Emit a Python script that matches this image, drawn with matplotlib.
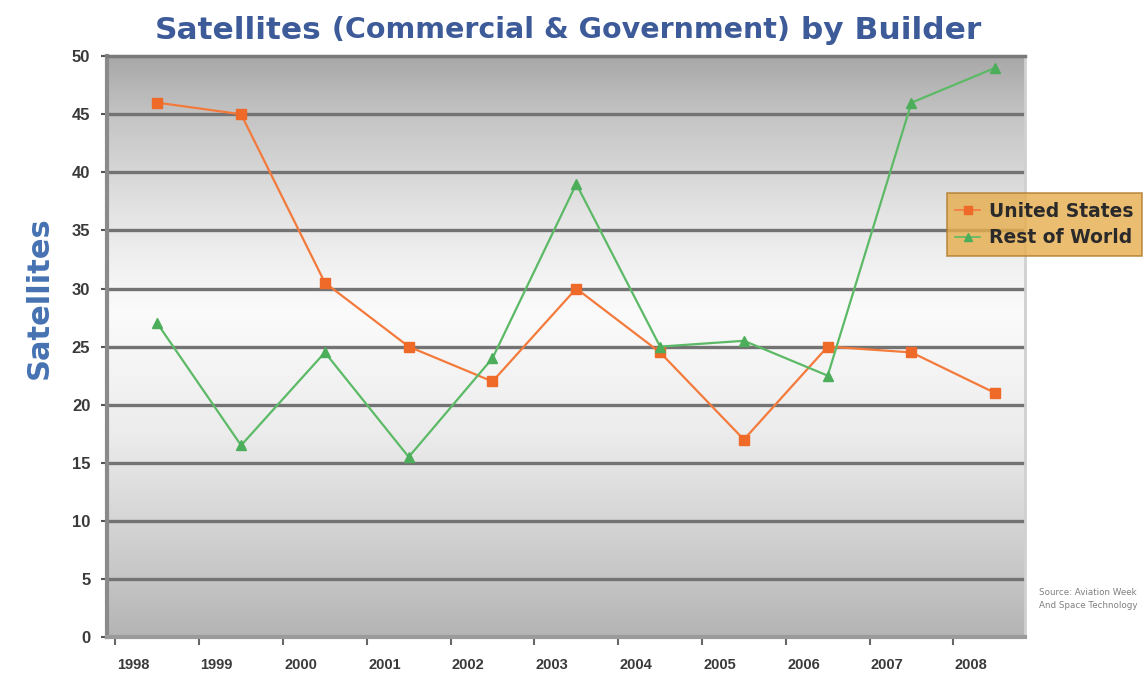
import numpy as np
import matplotlib
matplotlib.use("Agg")
import matplotlib.pyplot as plt
from matplotlib.colors import LinearSegmentedColormap
from matplotlib.lines import Line2D

years = ["1998", "1999", "2000", "2001", "2002", "2003", "2004", "2005", "2006", "2007", "2008"]
us = [46, 45, 30.5, 25, 22, 30, 24.5, 17, 25, 24.5, 21]
row = [27, 16.5, 24.5, 15.5, 24, 39, 25, 25.5, 22.5, 46, 49]
yticks = [0, 5, 10, 15, 20, 25, 30, 35, 40, 45, 50]

plt.rcParams['font.family'] = ['DejaVu Sans']

fig = plt.figure(figsize=(11.47, 6.85), dpi=100)
ax = fig.add_axes([0.0933, 0.070, 0.800, 0.848])

x = np.arange(len(years))
ax.set_xlim(-0.6, 10.35)
ax.set_ylim(0, 50)

# background gradient
stops = [(0.0, "#b4b4b4"), (0.12, "#c9c9c9"), (0.35, "#ececec"), (0.56, "#fbfbfb"),
         (0.72, "#e6e6e6"), (0.9, "#c4c4c4"), (1.0, "#a8a8a8")]
cmap = LinearSegmentedColormap.from_list("bg", stops)
grad = np.linspace(0, 1, 256).reshape(-1, 1)
ax.imshow(grad, extent=(-0.6, 10.35, 0, 50), origin="lower", aspect="auto",
          cmap=cmap, zorder=0)

for yv in yticks[1:-1]:
    ax.axhline(yv, color="#737373", lw=2.4, zorder=1)

ax.plot(x, us, color="#f47a3c", lw=1.6, marker="s", ms=6.5, mfc="#ef6a28",
        mec="#ef6a28", zorder=3, label="United States")
ax.plot(x, row, color="#5cba66", lw=1.6, marker="^", ms=6.5, mfc="#4cae5a",
        mec="#4cae5a", zorder=3, label="Rest of World")

ax.spines["top"].set_color("#7a7a7a")
ax.spines["top"].set_linewidth(2.5)
ax.spines["right"].set_color("#d0d0d0")
ax.spines["right"].set_linewidth(2)
ax.spines["left"].set_color("#8a8a8a")
ax.spines["left"].set_linewidth(3)
ax.spines["bottom"].set_color("#9a9a9a")
ax.spines["bottom"].set_linewidth(3)

ax.set_yticks(yticks)
ax.set_yticklabels([str(v) for v in yticks], fontsize=12, fontweight="bold",
                   color="#3a3a3a", family="Liberation Sans")
ax.tick_params(axis="y", length=4, width=1.5, color="#555555", pad=8)

ax.set_xticks(x - 0.29)
ax.set_xticklabels(years, fontsize=10.5, fontweight="bold", color="#3a3a3a",
                   family="Liberation Sans")
ax.tick_params(axis="x", length=0, pad=15)
ax.set_xticks(x - 0.5, minor=True)
ax.tick_params(axis="x", which="minor", length=6, width=1.5, color="#666666")

ax.set_ylabel("Satellites", fontsize=22, fontweight="bold", color="#4672b2")
ax.yaxis.set_label_coords(-0.058, 0.585)

t1 = fig.text(0.135, 0.956, "Satellites", fontsize=22.5, fontweight="bold", color="#3d5a99",
              ha="left", va="center")
t2 = ax.annotate(" (Commercial & Government)", xy=(1, 0.5), xycoords=t1, fontsize=20.5,
                 fontweight="bold", color="#3d5a99", ha="left", va="center",
                 annotation_clip=False)
t3 = ax.annotate(" by Builder", xy=(1, 0.5), xycoords=t2, fontsize=22.5, fontweight="bold",
                 color="#3d5a99", ha="left", va="center", annotation_clip=False)

handles = [Line2D([], [], color="#f47a3c", marker="s", ms=6, lw=1.2, mfc="#ef6a28", mec="#ef6a28"),
           Line2D([], [], color="#5cba66", marker="^", ms=6, lw=1.2, mfc="#4cae5a", mec="#4cae5a")]
leg = fig.legend(handles, ["United States", "Rest of World"], loc="upper left",
                 bbox_to_anchor=(0.8256, 0.718), borderaxespad=0, frameon=True, fancybox=False,
                 fontsize=13.5, handlelength=1.3, handletextpad=0.5, borderpad=0.45,
                 labelspacing=0.4)
leg.get_frame().set_facecolor("#e6ad4c")
leg.get_frame().set_edgecolor("#b07a2a")
leg.get_frame().set_linewidth(1.2)
for t in leg.get_texts():
    t.set_fontweight("bold")
    t.set_color("#2a2a2a")

fig.text(0.906, 0.132, "Source: Aviation Week", fontsize=6.3, color="#808080", ha="left")
fig.text(0.906, 0.112, "And Space Technology", fontsize=6.3, color="#808080", ha="left")

fig.savefig("out.png", dpi=100)
